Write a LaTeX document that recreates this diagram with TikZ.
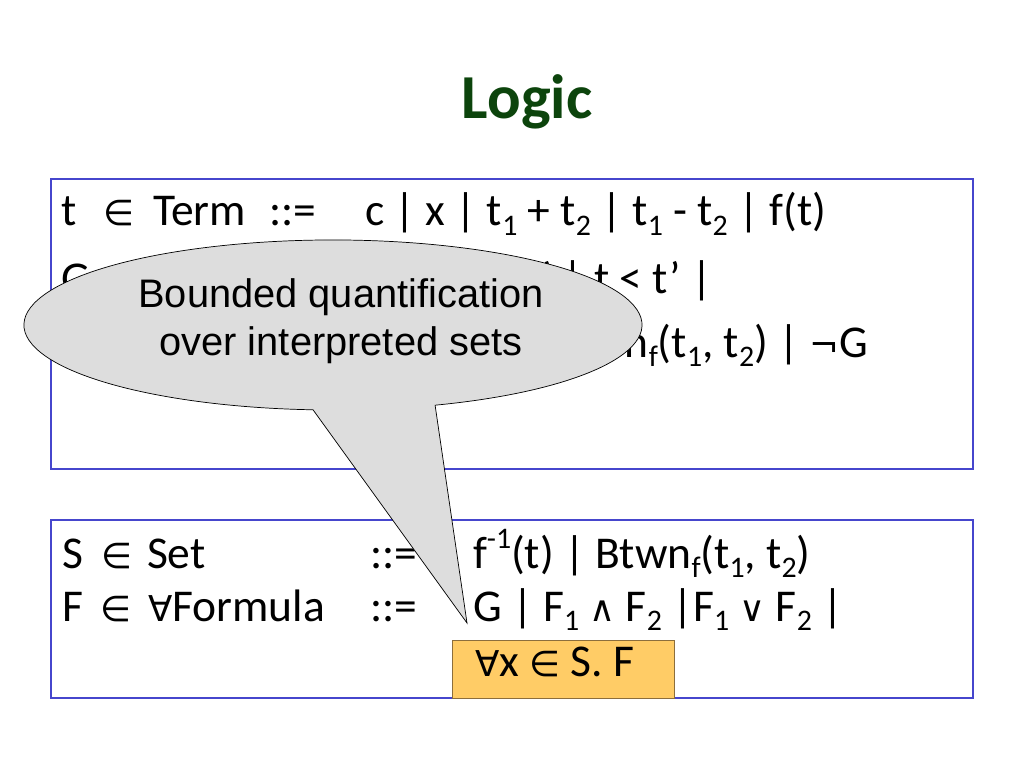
\documentclass[tikz,border=0pt]{standalone}
\usepackage{fontspec}
\setmainfont{Carlito}
\newfontfamily\arialf{Liberation Sans}
\newfontfamily\symf{DejaVu Sans}
\newcommand{\sy}[1]{{\symf\fontsize{25}{30}\selectfont #1}}
\definecolor{titlegreen}{RGB}{12,68,12}
\definecolor{boxblue}{RGB}{70,70,205}
\definecolor{hilite}{RGB}{255,204,102}
\definecolor{hiliteline}{RGB}{140,110,60}
\definecolor{calloutgray}{RGB}{221,221,221}
\newcommand{\lo}[1]{\raisebox{-0.2em}{\fontsize{21}{21}\selectfont #1}}
\newcommand{\hi}[1]{\raisebox{0.42em}{\fontsize{21}{21}\selectfont #1}}
\tikzset{
  txt/.style={inner sep=0pt, outer sep=0pt, anchor=base west, font=\fontsize{32}{38}\selectfont},
  txtr/.style={txt, anchor=base east},
  gbox/.style={draw=boxblue, line width=0.8pt},
  hbox/.style={fill=hilite, draw=hiliteline, line width=0.6pt},
  callout/.style={fill=calloutgray, draw=black, line width=0.5pt},
  ctext/.style={inner sep=0pt, anchor=base, font=\arialf\fontsize{28}{34}\selectfont}
}
\begin{document}
\begin{tikzpicture}[x=0.703125pt, y=-0.703125pt]
\useasboundingbox[fill=white] (0,0) rectangle (1024,768);

% title
\node[inner sep=0pt, anchor=base, font=\fontsize{44}{52}\selectfont\bfseries, text=titlegreen] (title) at (527,119) {Logic};

% box 1
\draw[gbox] (51,179) rectangle (973,469);
\node[txt] (a1) at (61,226) {t};
\node[txt] (a2) at (103,226) {\sy{∈}};
\node[txt] (a3) at (153,226) {Term};
\node[txt] (a4) at (269,226) {::=};
\node[txt] (a5) at (365,226) {c | x | t\lo{1} + t\lo{2} | t\lo{1} - t\lo{2} | f(t)};

\node[txt] (b1) at (61,293) {G};
\node[txt] (b2) at (103,293) {\sy{∈}};
\node[txt] (b3) at (145,293) {GFormula};
\node[txt] (b4) at (269,293) {::=};
\node[txtr] (b5) at (712,293) {t = t’ | t < t’ |};

\node[txtr] (c5) at (868,357) {t \sy{∈} S | Btwn\lo{f}(t\lo{1}, t\lo{2}) | \sy{¬}G};

% box 2
\draw[gbox] (51,520) rectangle (973,698);
\node[txt] (d1) at (62,568) {S};
\node[txt] (d2) at (101,568) {\sy{∈}};
\node[txt] (d3) at (147,568) {Set};
\node[txt] (d4) at (370,568) {::=};
\node[txt] (d5) at (473,568) {f\hi{-1}(t) | Btwn\lo{f}(t\lo{1}, t\lo{2})};

\node[txt] (e1) at (62,621) {F};
\node[txt] (e2) at (100,621) {\sy{∈}};
\node[txt] (e3) at (148,621) {\sy{∀}Formula};
\node[txt] (e4) at (370,621) {::=};
\node[txt] (e5) at (473,621) {G | F\lo{1} \sy{∧} F\lo{2} |F\lo{1} \sy{∨} F\lo{2} |};

\draw[hbox] (452,640) rectangle (674,698);
\node[txt] (f5) at (475,676) {\sy{∀}x \sy{∈} S. F};

% callout
\draw[callout] (467,623) -- (435.1,405.2)
  arc[start angle=70.7, end angle=-266.3, x radius=309, y radius=85] -- cycle;
\node[ctext] (k1) at (341,308) {Bounded quantification};
\node[ctext] (k2) at (341,355) {over interpreted sets};
\end{tikzpicture}
\end{document}
